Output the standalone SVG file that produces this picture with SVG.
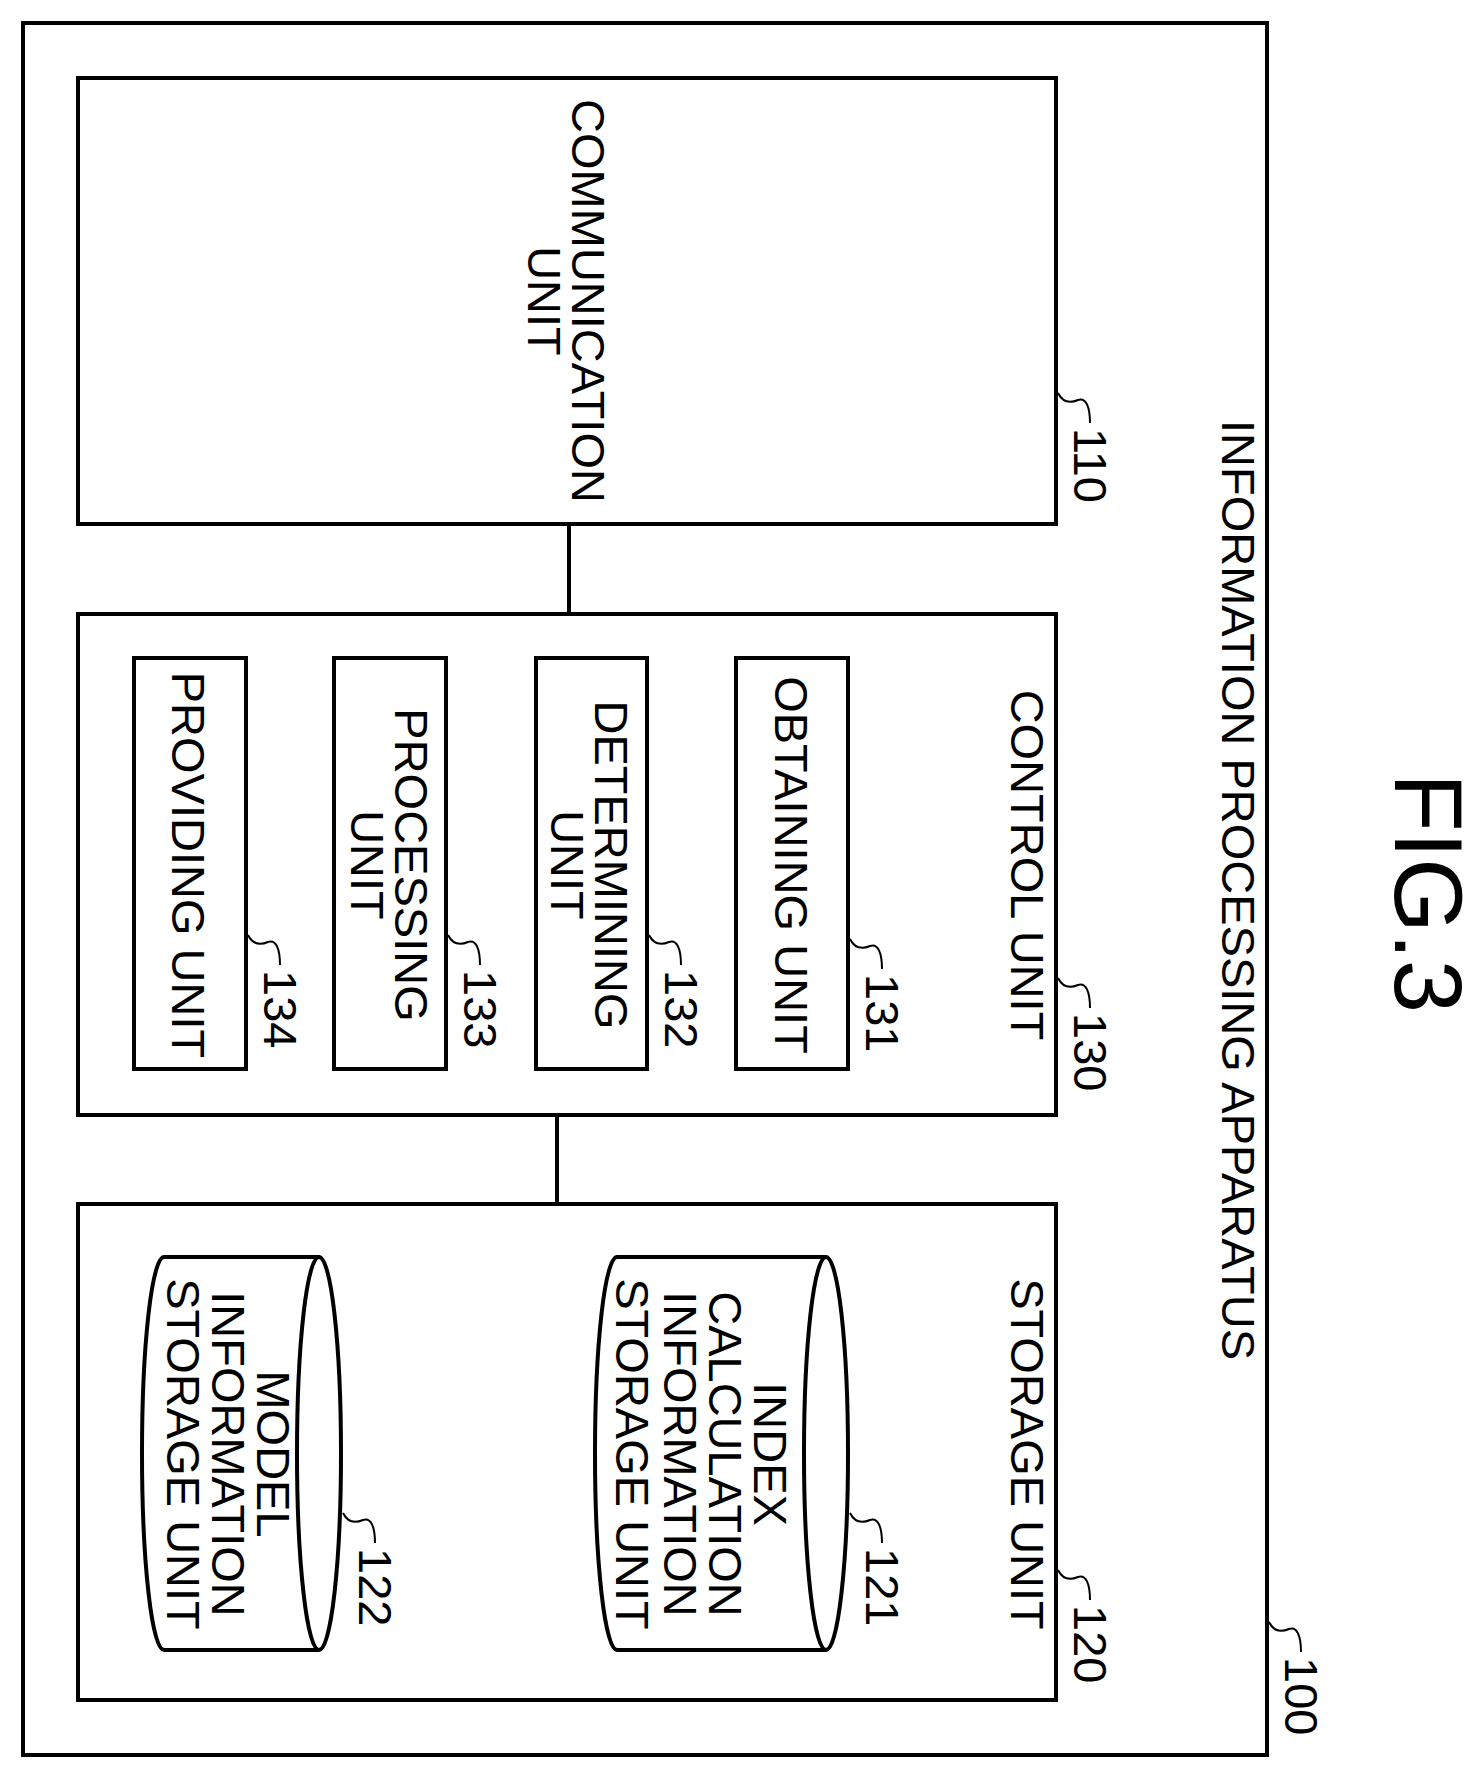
<svg xmlns="http://www.w3.org/2000/svg" width="1479" height="1779" viewBox="0 0 1479 1779">
<style>
.b{fill:none;stroke:#000;stroke-width:4}
.s{fill:none;stroke:#000;stroke-width:2}
text{font-family:"Liberation Sans",Arial,sans-serif;font-size:47px;fill:#000;dominant-baseline:central}
.m{text-anchor:middle}
.n{text-anchor:start}
</style>
<defs><path id="sq" d="m0,0 c5,10 13,10 20,7 c8,-3 12,7 12,23"/></defs>
<rect width="1479" height="1779" fill="#fff"/>
<g id="n100">
<rect class="b" x="23" y="23" width="1244" height="1732"/>
<text class="m" transform="translate(1238,890) rotate(90)">INFORMATION PROCESSING APPARATUS</text>
<use href="#sq" class="s" x="1269" y="1622"/><text class="n" transform="translate(1301,1657) rotate(90)">100</text>
</g>
<text class="m" style="font-size:96px" transform="translate(1428,893) rotate(90)">FIG.3</text>
<g id="n110">
<rect class="b" x="78" y="78" width="978" height="446"/>
<text class="m" transform="translate(588,301) rotate(90)">COMMUNICATION</text>
<text class="m" transform="translate(544,301) rotate(90)">UNIT</text>
<use href="#sq" class="s" x="1058" y="393"/><text class="n" transform="translate(1090,428) rotate(90)">110</text>
</g>
<g id="connectors">
<line class="b" x1="569" y1="524" x2="569" y2="614"/>
<line class="b" x1="557" y1="1115" x2="557" y2="1204"/>
</g>
<g id="n130">
<rect class="b" x="78" y="614" width="978" height="501"/>
<text class="m" transform="translate(1027,865) rotate(90)">CONTROL UNIT</text>
<use href="#sq" class="s" x="1058" y="978"/><text class="n" transform="translate(1090,1013) rotate(90)">130</text>
</g>
<g id="n131">
<rect class="b" x="736" y="658" width="112" height="411"/>
<text class="m" transform="translate(791,865) rotate(90)">OBTAINING UNIT</text>
<use href="#sq" class="s" x="850" y="939"/><text class="n" transform="translate(882,974) rotate(90)">131</text>
</g>
<g id="n132">
<rect class="b" x="536" y="658" width="111" height="411"/>
<text class="m" transform="translate(611,865) rotate(90)">DETERMINING</text>
<text class="m" transform="translate(567,865) rotate(90)">UNIT</text>
<use href="#sq" class="s" x="649" y="935"/><text class="n" transform="translate(681,970) rotate(90)">132</text>
</g>
<g id="n133">
<rect class="b" x="334" y="658" width="112" height="411"/>
<text class="m" transform="translate(411,865) rotate(90)">PROCESSING</text>
<text class="m" transform="translate(367,865) rotate(90)">UNIT</text>
<use href="#sq" class="s" x="448" y="935"/><text class="n" transform="translate(480,970) rotate(90)">133</text>
</g>
<g id="n134">
<rect class="b" x="134" y="658" width="112" height="411"/>
<text class="m" transform="translate(188,865) rotate(90)">PROVIDING UNIT</text>
<use href="#sq" class="s" x="248" y="935"/><text class="n" transform="translate(280,970) rotate(90)">134</text>
</g>
<g id="n120">
<rect class="b" x="78" y="1204" width="978" height="496"/>
<text class="m" transform="translate(1027,1454) rotate(90)">STORAGE UNIT</text>
<use href="#sq" class="s" x="1058" y="1570"/><text class="n" transform="translate(1090,1605) rotate(90)">120</text>
</g>
<g id="n121">
<path class="b" d="M617,1257 L826,1257 A22,196.5 0 0 1 826,1650 L617,1650 A22,196.5 0 0 1 617,1257 Z M826,1257 A22,196.5 0 0 0 826,1650"/>
<text class="m" transform="translate(770,1454) rotate(90)">INDEX</text>
<text class="m" transform="translate(725,1454) rotate(90)">CALCULATION</text>
<text class="m" transform="translate(680,1454) rotate(90)">INFORMATION</text>
<text class="m" transform="translate(632,1454) rotate(90)">STORAGE UNIT</text>
<use href="#sq" class="s" x="850" y="1513"/><text class="n" transform="translate(882,1548) rotate(90)">121</text>
</g>
<g id="n122">
<path class="b" d="M164,1257 L319,1257 A22,196.5 0 0 1 319,1650 L164,1650 A22,196.5 0 0 1 164,1257 Z M319,1257 A22,196.5 0 0 0 319,1650"/>
<text class="m" transform="translate(273,1454) rotate(90)">MODEL</text>
<text class="m" transform="translate(228,1454) rotate(90)">INFORMATION</text>
<text class="m" transform="translate(183,1454) rotate(90)">STORAGE UNIT</text>
<use href="#sq" class="s" x="343" y="1513"/><text class="n" transform="translate(375,1548) rotate(90)">122</text>
</g>
</svg>
